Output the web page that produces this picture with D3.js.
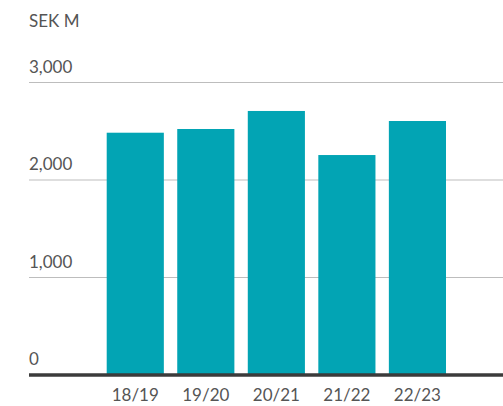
<!DOCTYPE html>
<html><head><meta charset="utf-8">
<script src="https://cdn.jsdelivr.net/npm/d3@7"></script>
<style>body{margin:0;background:#fff}svg{display:block}text{font-family:Lato,"Open Sans",sans-serif;fill:#555}</style>
</head><body><svg id="c" width="503" height="406"></svg>
<script>
const categories = ["18/19","19/20","20/21","21/22","22/23"];
const values = [2485, 2523, 2708, 2256, 2605];
const yTicks = [0, 1000, 2000, 3000];
const unitLabel = "SEK M";

const svg = d3.select("#c");
const y = d3.scaleLinear().domain([0, 3000]).range([375, 82.5]);
const x = d3.scaleBand().domain(categories).range([100, 452.7]).paddingInner(0.19).paddingOuter(0.095);
const fmt = d3.format(",");

// gridlines
svg.append("g").selectAll("line").data(yTicks.filter(d => d > 0)).join("line")
  .attr("x1", 29).attr("x2", 503)
  .attr("y1", d => y(d)).attr("y2", d => y(d))
  .attr("stroke", "#bdbdbd").attr("stroke-width", 1.2);

// tick labels
svg.append("g").selectAll("text").data(yTicks).join("text")
  .attr("x", 29).attr("y", d => y(d) - 10)
  .attr("font-size", 17).text(d => fmt(d));

svg.append("text").attr("x", 29).attr("y", 27).attr("font-size", 17).text(unitLabel);

// bars
svg.append("g").selectAll("rect").data(values).join("rect")
  .attr("x", (d, i) => x(categories[i]))
  .attr("width", x.bandwidth())
  .attr("y", d => y(d))
  .attr("height", d => y(0) - y(d))
  .attr("fill", "#02a4b4");

// baseline
svg.append("line").attr("x1", 29).attr("x2", 503).attr("y1", y(0)).attr("y2", y(0))
  .attr("stroke", "#3b3b3b").attr("stroke-width", 3.5);

// category labels
svg.append("g").selectAll("text.cat").data(categories).join("text")
  .attr("class", "cat")
  .attr("x", d => x(d) + x.bandwidth() / 2).attr("y", 401)
  .attr("text-anchor", "middle").attr("font-size", 17).text(d => d);
</script></body></html>
